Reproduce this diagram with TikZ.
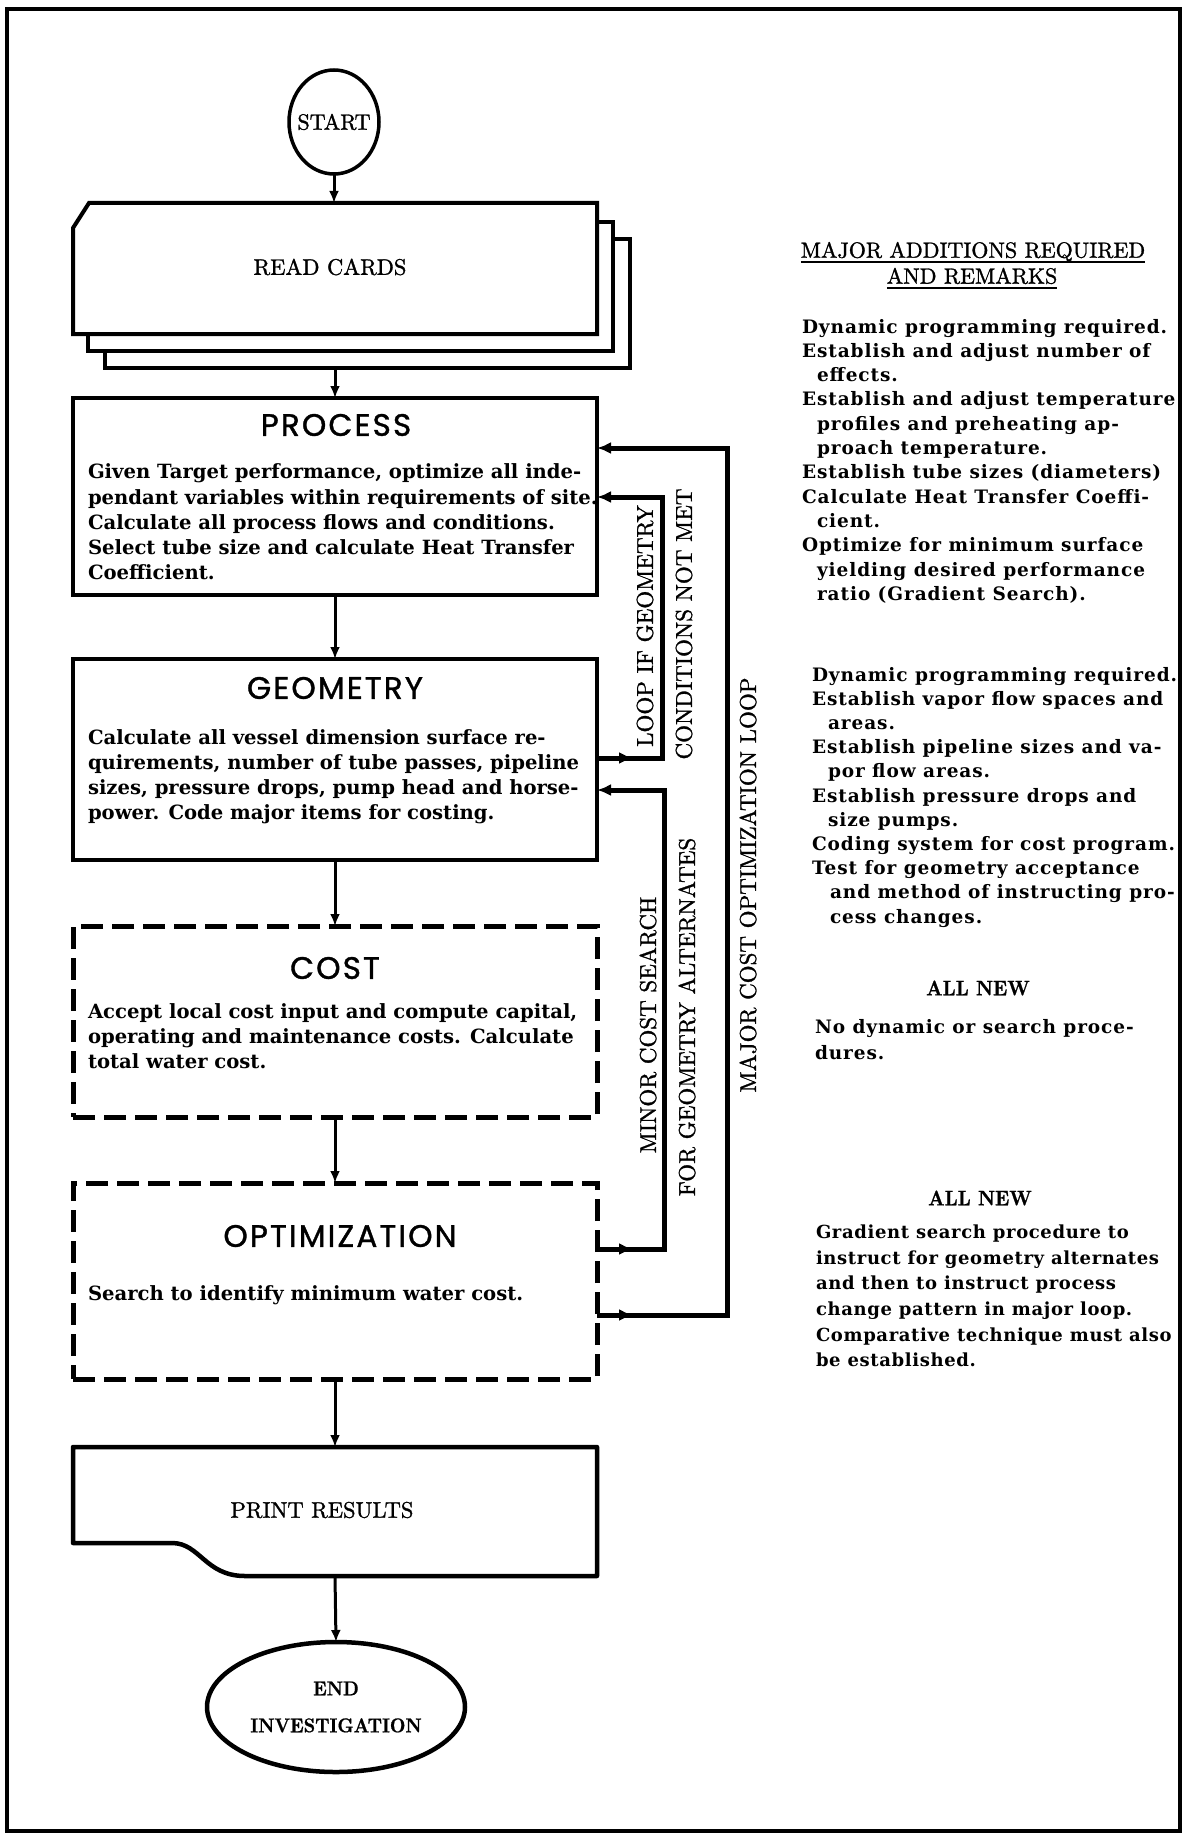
\documentclass[tikz,border=0pt]{standalone}
\usepackage{fontspec}
\usetikzlibrary{arrows.meta,decorations.markings,shapes.geometric}

\newfontfamily\fcTitleFam[LetterSpace=7,FakeBold=1.2]{Poppins}
\newfontfamily\fcTypeFam{DejaVu Serif}
\newfontfamily\fcRemFam[LetterSpace=5]{DejaVu Serif}
\newfontfamily\fcRemTightFam[LetterSpace=3.5]{DejaVu Serif}
\newfontfamily\fcSerifFam[FakeBold=1.3]{lmroman10-regular.otf}
\newfontfamily\fcHeavyFam[FakeStretch=0.9,FakeBold=0.8]{lmroman10-bold.otf}
\newcommand\fcTitle{\fcTitleFam\fontsize{31}{36}\selectfont}
\newcommand\fcBody{\fcTypeFam\bfseries\fontsize{19.6}{25.2}\selectfont}
\newcommand\fcRem{\fcRemFam\bfseries\fontsize{18.5}{24.3}\selectfont}
\newcommand\fcLab{\fcSerifFam\fontsize{22.5}{26}\selectfont}
\newcommand\fcVLab{\fcSerifFam\fontsize{23}{27}\selectfont}
\newcommand\fcBold{\fcHeavyFam\fontsize{20}{37}\selectfont}
\newcommand\fcNew{\fcHeavyFam\fontsize{21}{24}\selectfont}

\begin{document}
\begin{tikzpicture}[x=1pt,y=-1pt,
  every node/.style={inner sep=0pt, outer sep=0pt},
  procbox/.style={draw, line width=4.5pt, minimum width=524pt, anchor=north west},
  dashbox/.style={procbox, line width=5pt, dash pattern=on 22pt off 9pt},
  flow/.style={line width=3pt, -{Latex[length=12pt,width=10pt]}},
  fback/.style={line width=5pt, -{Latex[length=14pt,width=12pt]},
    postaction=decorate,
    decoration={markings, mark=at position 36pt with {\arrow{Latex[length=14pt,width=12pt]}}}},
  bodytext/.style={anchor=north west, align=left, font=\fcBody},
  ttl/.style={font=\fcTitle},
  lab/.style={font=\fcLab},
  vlab/.style={font=\fcVLab, rotate=90},
  remark/.style={anchor=north west, align=left, font=\fcRem},
  cardline/.style={line width=4pt, fill=white},
]
\useasboundingbox (0,0) rectangle (1184,1835);

% page frame
\draw[line width=3.5pt] (7,9) rectangle (1180,1831);

% start terminal
\node[ellipse, draw, line width=3.5pt, minimum width=90pt, minimum height=104pt] (start) at (334,122) {};
\node[font=\fcSerifFam\fontsize{22}{26}\selectfont] (startt) at (start.center) {START};

% card deck
\node[minimum width=524pt, minimum height=131pt, anchor=north west] (cards) at (73,203) {};
\filldraw[cardline] (105,239) rectangle (630,368);
\filldraw[cardline] (88,222) rectangle (613,351);
\filldraw[cardline] (73,228) -- (89,203) -- (597,203) -- (597,334) -- (73,334) -- cycle;
\node[lab] (cardst) at (330,267) {READ CARDS};
\coordinate (cardsout) at (335,368);

% process blocks
\node[procbox, minimum height=197pt] (proc) at (73,398) {};
\node[ttl] (proch) at (336,425) {PROCESS};
\node[bodytext] (proct) at (88,464) {Given Target performance, optimize all inde-\\
pendant variables within requirements of site.\\
Calculate all process flows and conditions.\\
Select tube size and calculate Heat Transfer\\
Coefficient.};

\node[procbox, minimum height=201pt] (geom) at (73,659) {};
\node[ttl] (geomh) at (335,688) {GEOMETRY};
\node[bodytext, font=\fcTypeFam\bfseries\fontsize{19.6}{25}\selectfont] (geomt) at (88,730) {Calculate all vessel dimension surface re-\\
quirements, number of tube passes, pipeline\\
sizes, pressure drops, pump head and horse-\\
power. Code major items for costing.};

\node[dashbox, minimum height=191pt] (cost) at (73,926) {};
\node[ttl] (costh) at (335,968) {COST};
\node[bodytext, font=\fcTypeFam\bfseries\fontsize{19.6}{24.6}\selectfont] (costt) at (88,1004) {Accept local cost input and compute capital,\\
operating and maintenance costs. Calculate\\
total water cost.};

\node[dashbox, minimum height=196pt] (opt) at (73,1183) {};
\node[ttl] (opth) at (340,1236) {OPTIMIZATION};
\node[bodytext] (optt) at (88,1286) {Search to identify minimum water cost.};

% print document
\node[minimum width=524pt, minimum height=129pt, anchor=north west] (print) at (73,1447) {};
\draw[line width=4.5pt, line join=round] (73,1447) -- (597,1447) -- (597,1576) -- (245,1576)
  .. controls (205,1576) and (200,1543) .. (172,1543) -- (73,1543) -- cycle;
\node[lab] (printt) at (322,1510) {PRINT RESULTS};

% end terminal
\node[ellipse, draw, line width=4.5pt, minimum width=258pt, minimum height=130pt,
  font=\fcBold, align=center] (endn) at (336,1707) {END\\INVESTIGATION};

% main flow
\draw[flow] (start.south) -- (start.south |- cards.north);
\draw[flow] (cardsout) -- (cardsout |- proc.north);
\draw[flow] (proc.south) -- (geom.north);
\draw[flow] (geom.south) -- (cost.north);
\draw[flow] (cost.south) -- (opt.north);
\draw[flow] (opt.south) -- (print.north);
\draw[flow] (print.south) -- (endn.north);

% feedback loops
\coordinate (gl) at (662,758);
\coordinate (pl) at (662,497);
\coordinate (om) at (664,1249);
\coordinate (gm) at (664,790);
\coordinate (oM) at (727,1315);
\coordinate (pM) at (727,448);
\draw[fback] (geom.east |- gl) -- (gl) -- (pl) -- (proc.east |- pl);
\draw[fback] (opt.east |- om) -- (om) -- (gm) -- (geom.east |- gm);
\draw[fback] (opt.east |- oM) -- (oM) -- (pM) -- (proc.east |- pM);

\node[vlab] (lp1) at (645,626) {LOOP IF GEOMETRY};
\node[vlab] (lp2) at (684,624) {CONDITIONS NOT MET};
\node[vlab] (mn1) at (648,1025) {MINOR COST SEARCH};
\node[vlab] (mn2) at (687,1017) {FOR GEOMETRY ALTERNATES};
\node[vlab] (mj1) at (748,885) {MAJOR COST OPTIMIZATION LOOP};

% remarks column
\node[font=\fcSerifFam\fontsize{22}{26}\selectfont] (hdr1) at (973,252) {MAJOR ADDITIONS REQUIRED};
\node[font=\fcSerifFam\fontsize{22}{26}\selectfont] (hdr2) at (972,276) {AND REMARKS};
\draw[line width=2.2pt] ([yshift=-4pt]hdr1.base west) -- ([yshift=-4pt]hdr1.base east);
\draw[line width=2.2pt] ([yshift=-4pt]hdr2.base west) -- ([yshift=-4pt]hdr2.base east);

\node[remark] (rem1) at (802,319) {Dynamic programming required.\\
Establish and adjust number of\\
\hspace*{15pt}effects.\\
Establish and adjust temperature\\
\hspace*{15pt}profiles and preheating ap-\\
\hspace*{15pt}proach temperature.\\
Establish tube sizes (diameters)\\
Calculate Heat Transfer Coeffi-\\
\hspace*{15pt}cient.\\
Optimize for minimum surface\\
\hspace*{15pt}yielding desired performance\\
\hspace*{15pt}ratio (Gradient Search).};

\node[remark, font=\fcRemFam\bfseries\fontsize{18.5}{24.2}\selectfont] (rem2) at (812,667) {Dynamic programming required.\\
Establish vapor flow spaces and\\
\hspace*{16pt}areas.\\
Establish pipeline sizes and va-\\
\hspace*{16pt}por flow areas.\\
Establish pressure drops and\\
\hspace*{16pt}size pumps.\\
Coding system for cost program.\\
Test for geometry acceptance\\
\hspace*{18pt}and method of instructing pro-\\
\hspace*{18pt}cess changes.};

\node[font=\fcNew] (alln1) at (978,988) {ALL NEW};
\node[remark, font=\fcRemFam\bfseries\fontsize{18.5}{26}\selectfont] (rem3) at (815,1019) {No dynamic or search proce-\\
dures.};

\node[font=\fcNew] (alln2) at (980,1198) {ALL NEW};
\node[remark, font=\fcRemTightFam\bfseries\fontsize{18}{25.6}\selectfont] (rem4) at (816,1225) {Gradient search procedure to\\
instruct for geometry alternates\\
and then to instruct process\\
change pattern in major loop.\\
Comparative technique must also\\
be established.};
\end{tikzpicture}
\end{document}
